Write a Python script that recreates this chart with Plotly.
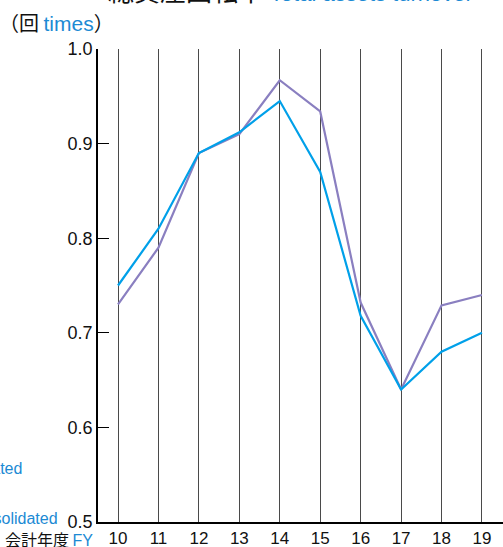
import plotly.graph_objects as go

years = [10, 11, 12, 13, 14, 15, 16, 17, 18, 19]
year_labels = ["10", "11", "12", "13", "14", "15", "16", "17", "18", "19"]
consolidated = [0.73, 0.79, 0.89, 0.91, 0.967, 0.934, 0.732, 0.64, 0.729, 0.74]
non_consolidated = [0.75, 0.81, 0.89, 0.912, 0.945, 0.87, 0.718, 0.64, 0.68, 0.70]
y_ticks = [0.5, 0.6, 0.7, 0.8, 0.9, 1.0]
y_tick_labels = ["0.5", "0.6", "0.7", "0.8", "0.9", "1.0"]

BLUE = "#00a0e9"
PURPLE = "#8a7fc0"
TBLUE = "#1c8ad4"
LAT = "Liberation Sans, Arial, sans-serif"
CJK = "Noto Sans CJK JP, sans-serif"

fig = go.Figure()
fig.add_trace(go.Scatter(x=years, y=consolidated, mode="lines",
                         line=dict(color=PURPLE, width=2.2), name="Consolidated"))
fig.add_trace(go.Scatter(x=years, y=non_consolidated, mode="lines",
                         line=dict(color=BLUE, width=2.2), name="Non-consolidated"))

fig.update_layout(
    width=503, height=547,
    margin=dict(l=98, r=0, t=49, b=25),
    paper_bgcolor="white", plot_bgcolor="white",
    showlegend=False,
    font=dict(family=LAT, size=17, color="#111"),
    xaxis=dict(range=[9.505, 19.52], tickmode="array", tickvals=years, ticktext=year_labels,
               showgrid=True, gridcolor="#4a4a4a", gridwidth=1, zeroline=False,
               showline=True, linecolor="black", linewidth=1.5, automargin=False,
               ticks="", ticklen=0,
               tickfont=dict(family=LAT, size=17, color="#111")),
    yaxis=dict(range=[0.5, 1.0], tickmode="array", tickvals=y_ticks, ticktext=y_tick_labels,
               showgrid=False, zeroline=False, automargin=False,
               showline=True, linecolor="black", linewidth=1.5,
               ticks="inside", ticklen=11, tickcolor="black", tickwidth=1.2,
               tickfont=dict(family=LAT, size=18, color="#111")),
)

def ann(text, x, y, xanchor="left", yanchor="middle", size=17, color="#111", family=LAT):
    fig.add_annotation(text=text, x=x, y=y, xref="paper", yref="paper",
                       xanchor=xanchor, yanchor=yanchor, showarrow=False,
                       font=dict(family=family, size=size, color=color))

def px_x(px):
    return (px - 98) / (503 - 98)

def px_y(py):
    return (522 - py) / (522 - 49)

# title (cut off at top)
ann("総資産回転率 <span style='color:%s;font-family:Liberation Sans;font-size:22px'>Total assets turnover</span>" % TBLUE,
    px_x(106), px_y(-10), size=26, family=CJK)
# unit
ann("（回 <span style='color:%s;font-family:Liberation Sans;font-size:21px'>times</span>）" % TBLUE,
    px_x(-3), px_y(22), size=20, family=CJK)
# x axis title
ann("会計年度 <span style='color:%s;font-family:Liberation Sans;font-size:16px'>FY</span>" % TBLUE,
    px_x(3), px_y(539), size=16, family=CJK)
# legend labels (cut off at left)
ann("Consolidated", px_x(24), px_y(468), xanchor="right", size=16, color=TBLUE)
ann("Non-consolidated", px_x(60), px_y(518), xanchor="right", size=16, color=TBLUE)

fig.write_html("out.html", config={"displayModeBar": False},
               post_script="document.body.style.margin='0';document.body.style.padding='0';")
